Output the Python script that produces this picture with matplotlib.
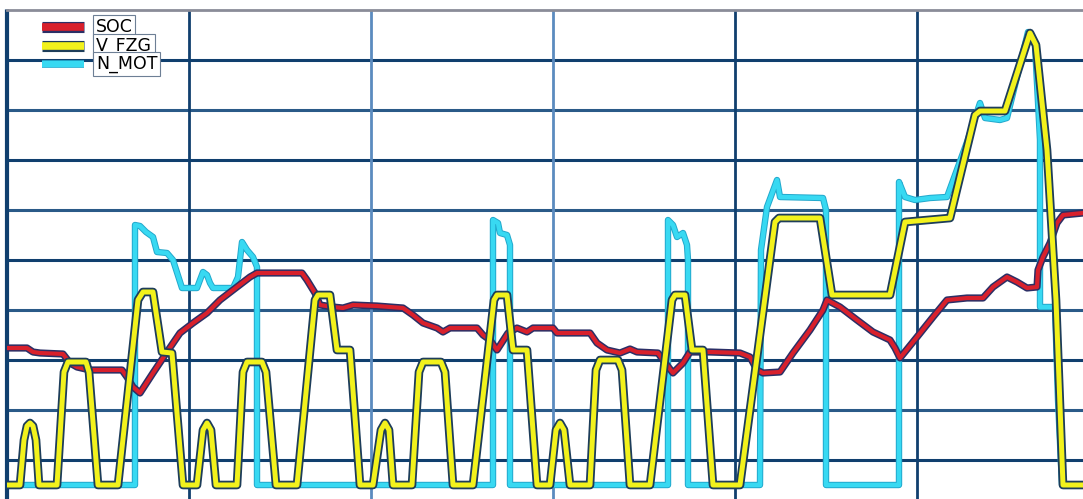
import matplotlib
matplotlib.use("Agg")
import matplotlib.pyplot as plt
import matplotlib.patheffects as pe
from matplotlib.lines import Line2D

# ---- data (time axis units, value units) ----
v_fzg_t = [1, 13, 17, 20, 23, 26, 29, 32, 50, 57, 61, 79, 82, 91, 111, 131, 136, 146, 155, 165, 176,
           190, 196, 200, 204, 209, 230, 236, 240, 255, 259, 269, 290, 308, 311, 323, 330, 343, 353,
           366, 374, 378, 382, 386, 405, 412, 416, 434, 438, 446, 466, 487, 490, 500, 506, 520, 530,
           543, 549, 553, 557, 563, 583, 589, 593, 611, 615, 623, 643, 665, 668, 678, 685, 696, 706,
           733, 768, 772, 813, 825, 883, 898, 943, 968, 973, 998, 1023, 1029, 1040, 1049, 1056, 1076]
v_fzg = [25, 25, 70, 84, 87, 84, 70, 25, 25, 138, 148, 148, 138, 25, 25, 210, 218, 218, 158, 157, 25,
         25, 80, 87, 80, 25, 25, 138, 148, 148, 138, 25, 25, 210, 215, 215, 160, 160, 25,
         25, 80, 87, 80, 25, 25, 138, 148, 148, 138, 25, 25, 210, 215, 215, 160, 160, 25,
         25, 80, 87, 80, 25, 25, 140, 150, 150, 140, 25, 25, 210, 215, 215, 160, 160, 25,
         25, 288, 292, 292, 215, 215, 288, 292, 395, 399, 399, 477, 465, 360, 210, 25, 25]

n_mot_t = [1, 128, 128, 133, 139, 146, 150, 160, 166, 175, 190, 193, 196, 200, 203, 206, 226, 231, 235,
           240, 246, 250, 250, 486, 486, 491, 493, 500, 503, 503, 661, 661, 666, 670, 676, 680, 681,
           681, 753, 754, 760, 770, 773, 816, 819, 819, 892, 892, 898, 908, 923, 940, 960, 973, 978,
           993, 1000, 1021, 1028, 1033, 1033, 1048, 1051, 1055, 1076]
n_mot = [25, 25, 285, 284, 278, 273, 258, 257, 250, 222, 222, 230, 238, 235, 227, 222, 222, 233, 268,
         260, 253, 243, 25, 25, 290, 287, 277, 275, 265, 25, 25, 290, 285, 273, 277, 265, 250,
         25, 25, 260, 303, 330, 313, 312, 300, 25, 25, 328, 313, 310, 312, 313, 368, 407, 392,
         390, 392, 478, 465, 370, 203, 203, 110, 25, 25]

soc_t = [1, 20, 26, 33, 56, 63, 70, 83, 115, 120, 126, 133, 146, 160, 173, 186, 200, 213, 226, 243,
         250, 295, 300, 308, 313, 326, 336, 346, 370, 396, 406, 416, 430, 436, 443, 470, 476, 483,
         490, 501, 510, 520, 526, 546, 550, 583, 590, 600, 613, 623, 630, 651, 656, 666, 676, 683,
         703, 733, 743, 750, 756, 773, 786, 803, 816, 820, 833, 850, 866, 883, 888, 893, 910, 926,
         940, 960, 976, 986, 1000, 1010, 1020, 1030, 1031, 1036, 1043, 1050, 1056, 1076]
soc = [162, 162, 158, 157, 156, 147, 143, 140, 140, 133, 123, 117, 137, 158, 177, 187, 197, 210, 220, 233,
       237, 237, 230, 217, 205, 203, 202, 205, 204, 202, 195, 187, 182, 178, 182, 182, 175, 170,
       160, 177, 182, 178, 182, 182, 177, 177, 167, 160, 157, 161, 158, 157, 150, 137, 147, 158,
       158, 157, 153, 140, 137, 138, 157, 180, 200, 210, 203, 190, 178, 170, 162, 152, 173, 193,
       210, 212, 212, 223, 233, 228, 222, 223, 240, 253, 267, 287, 295, 297]

legend_labels = ["SOC", "V_FZG", "N_MOT"]

# ---- styling ----
W, H = 1083, 499
fig = plt.figure(figsize=(W / 100, H / 100), dpi=100)
fig.patch.set_facecolor("white")
ax = fig.add_axes([7 / W, 0, 1 - 7 / W, 489 / H])
ax.set_xlim(0, 1076)
ax.set_ylim(11, 500)
ax.set_xticks([])
ax.set_yticks([])

dark = "#103f6e"
light = "#5b8bbf"
for i, yv in enumerate(range(50, 500, 50)):
    ax.axhline(yv, color=dark if i % 2 == 0 else "#2a5a88", lw=2.2, zorder=1)
for xv in range(182, 1076, 182):
    ax.axvline(xv, color=light if xv in (364, 546) else dark, lw=2.0, zorder=1)

for s in ["right", "bottom"]:
    ax.spines[s].set_visible(False)
ax.spines["top"].set_color("#8a8c98")
ax.spines["top"].set_linewidth(2)
ax.spines["left"].set_color(dark)
ax.spines["left"].set_linewidth(3)
ax.spines["left"].set_linestyle((0, (1, 1)))

cyan_c = "#38d9f2"
red_c = "#d8202c"
yel_c = "#f2f21c"
outline = "#1d3d5a"

ax.plot(n_mot_t, n_mot, color=cyan_c, lw=3.2, zorder=3,
        path_effects=[pe.Stroke(linewidth=4.6, foreground="#22a8cc"), pe.Normal()])
ax.plot(soc_t, soc, color=red_c, lw=3.0, zorder=4,
        path_effects=[pe.Stroke(linewidth=5.2, foreground="#2b2f66"), pe.Normal()])
ax.plot(v_fzg_t, v_fzg, color=yel_c, lw=3.6, zorder=5,
        path_effects=[pe.Stroke(linewidth=6.2, foreground=outline), pe.Normal()])

# ---- legend (drawn in figure pixel coordinates) ----
def fx(px):
    return px / W

def fy(py):
    return 1 - py / H

leg_rows = [(27, red_c, "#2b2f66", 5.5, 8.0), (46, yel_c, outline, 5.5, 8.0), (64, cyan_c, "#22a8cc", 4.5, 5.5)]
for (py, col, ec, lw_in, lw_out), lab in zip(leg_rows, legend_labels):
    ln = Line2D([fx(42), fx(84)], [fy(py), fy(py)], transform=fig.transFigure,
                color=col, lw=lw_in, solid_capstyle="butt", zorder=10,
                path_effects=[pe.Stroke(linewidth=lw_out, foreground=ec), pe.Normal()])
    fig.add_artist(ln)
    fig.text(fx(96), fy(py), lab, ha="left", va="center", fontsize=12.5,
             family="DejaVu Sans", color="black", zorder=11,
             bbox=dict(boxstyle="square,pad=0.15", fc="white", ec="#6d7f95", lw=0.8))

fig.savefig("out.png", dpi=100, facecolor="white")
